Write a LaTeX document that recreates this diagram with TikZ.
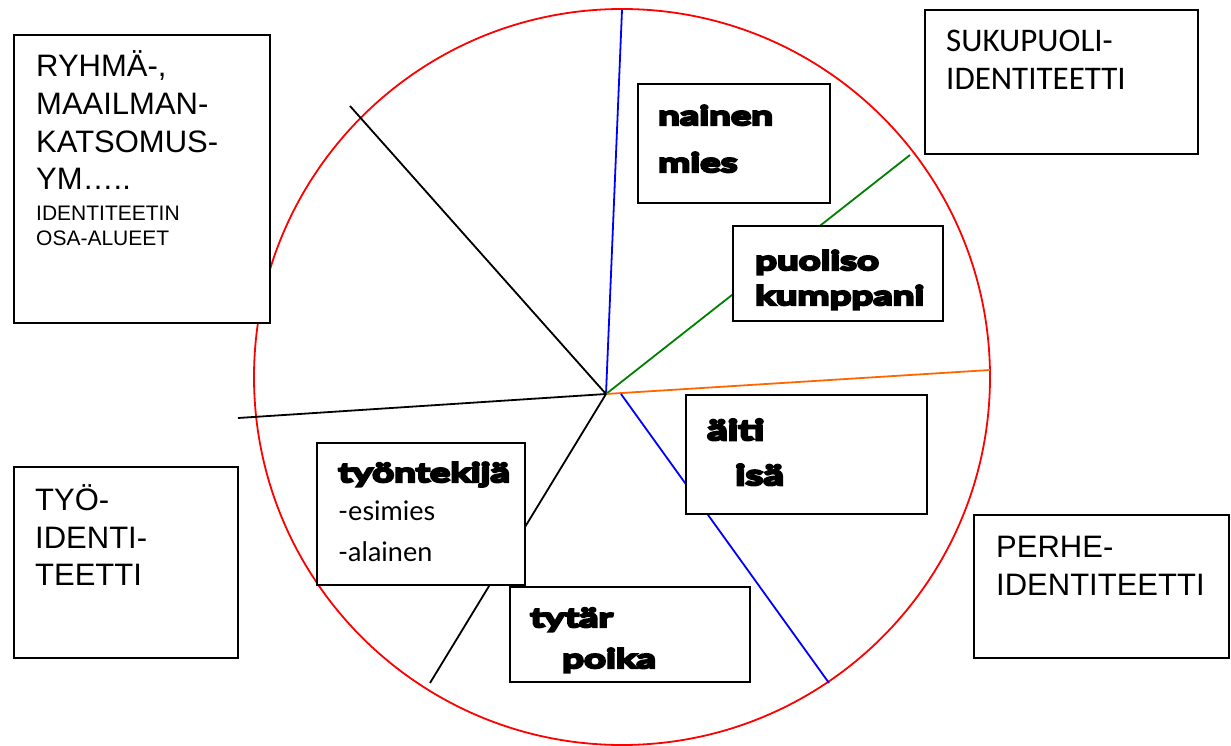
\documentclass[tikz,border=0pt]{standalone}
\usepackage{fontspec}
\setmainfont{Liberation Sans}
\newfontfamily\calib{Carlito}
\newfontfamily\chunkyfont{Lato}[FakeStretch=1.45,FakeBold=9]
\newfontfamily\lightfont{Lato}
\definecolor{cred}{RGB}{255,0,0}
\definecolor{cblue}{RGB}{0,0,255}
\definecolor{cgreen}{RGB}{0,128,0}
\definecolor{corange}{RGB}{255,102,0}
\begin{document}
\begin{tikzpicture}[x=1pt,y=-1pt,
  box/.style={draw=black,line width=2pt,fill=white,rectangle,inner sep=0pt},
  seg/.style={line width=1.8pt},
  lbl/.style={anchor=base west,inner sep=0pt},
  big/.style={lbl,font=\fontsize{31}{31}\selectfont},
  small/.style={lbl,font=\fontsize{21}{21}\selectfont},
  cal/.style={lbl,font=\calib\fontsize{33}{33}\selectfont},
  chunk/.style={lbl,font=\chunkyfont\bfseries\fontsize{26.5}{26.5}\selectfont},
  chunkb/.style={lbl,font=\chunkyfont\bfseries\fontsize{28}{28}\selectfont},
  lite/.style={lbl,font=\lightfont\fontsize{27}{27}\selectfont}]
\useasboundingbox[fill=white] (0,0) rectangle (1231,746);
% circle
\node[draw=cred,line width=1.8pt,circle,minimum size=736pt,inner sep=0pt] (circ) at (622,377) {};
% hub and spoke ends
\coordinate (hub) at (606,394);
\coordinate (hubb) at (621,394);
\coordinate (eTop) at (622,10);
\coordinate (eGreen) at (910,155);
\coordinate (eOrange) at (990,370);
\coordinate (eBlue) at (829,683);
\coordinate (eLow) at (430,683);
\coordinate (eLeft) at (238,418);
\coordinate (eUL) at (350,106);
\draw[seg,cblue] (hub) -- (eTop);
\draw[seg,cgreen] (hub) -- (eGreen);
\draw[seg,corange] (hub) -- (eOrange);
\draw[seg,cblue] (hubb) -- (eBlue);
\draw[seg,black] (hub) -- (eLow);
\draw[seg,black] (hub) -- (eLeft);
\draw[seg,black] (hub) -- (eUL);
% outer boxes
\node[box,minimum width=256pt,minimum height=288pt] (bRyhma) at (142,179) {};
\node[box,minimum width=273pt,minimum height=144pt] (bSuku) at (1061.5,82) {};
\node[box,minimum width=224pt,minimum height=191pt] (bTyo) at (126,562.5) {};
\node[box,minimum width=255pt,minimum height=143pt] (bPerhe) at (1101.5,586.5) {};
% inner boxes
\node[box,minimum width=192pt,minimum height=119pt] (bNainen) at (734,143.5) {};
\node[box,minimum width=210pt,minimum height=95pt] (bPuoliso) at (838,273.5) {};
\node[box,minimum width=241pt,minimum height=119pt] (bAiti) at (806.5,454.5) {};
\node[box,minimum width=208pt,minimum height=142pt] (bTyont) at (421,514) {};
\node[box,minimum width=240pt,minimum height=95pt] (bTytar) at (630,634.5) {};
% texts
\node[big] (t1) at (36,77) {RYHMÄ-,};
\node[big] (t2) at (36,115) {MAAILMAN-};
\node[big] (t3) at (36,153) {KATSOMUS-};
\node[big] (t4) at (36,190) {YM…..};
\node[small] (t5) at (36,220) {IDENTITEETIN};
\node[small] (t6) at (36,245) {OSA-ALUEET};
\node[cal] (s1) at (946,52) {SUKUPUOLI-};
\node[cal] (s2) at (946,90) {IDENTITEETTI};
\node[big] (w1) at (35,510) {TYÖ-};
\node[big] (w2) at (35,548) {IDENTI-};
\node[big] (w3) at (35,585) {TEETTI};
\node[big] (p1) at (996,557) {PERHE-};
\node[big] (p2) at (996,595) {IDENTITEETTI};
\node[chunk] (n1) at (658,125) {nainen};
\node[chunk] (n2) at (658,172) {mies};
\node[chunk] (k1) at (755,270) {puoliso};
\node[chunk] (k2) at (755,305) {kumppani};
\node[chunkb] (a1) at (707,440) {äiti};
\node[chunkb] (a2) at (735,485) {isä};
\node[chunk] (y1) at (338,482) {työntekijä};
\node[lite] (y2) at (338,520) {-esimies};
\node[lite] (y3) at (338,561) {-alainen};
\node[chunk] (c1) at (530,627) {tytär};
\node[chunk] (c2) at (562,668) {poika};
\end{tikzpicture}
\end{document}
